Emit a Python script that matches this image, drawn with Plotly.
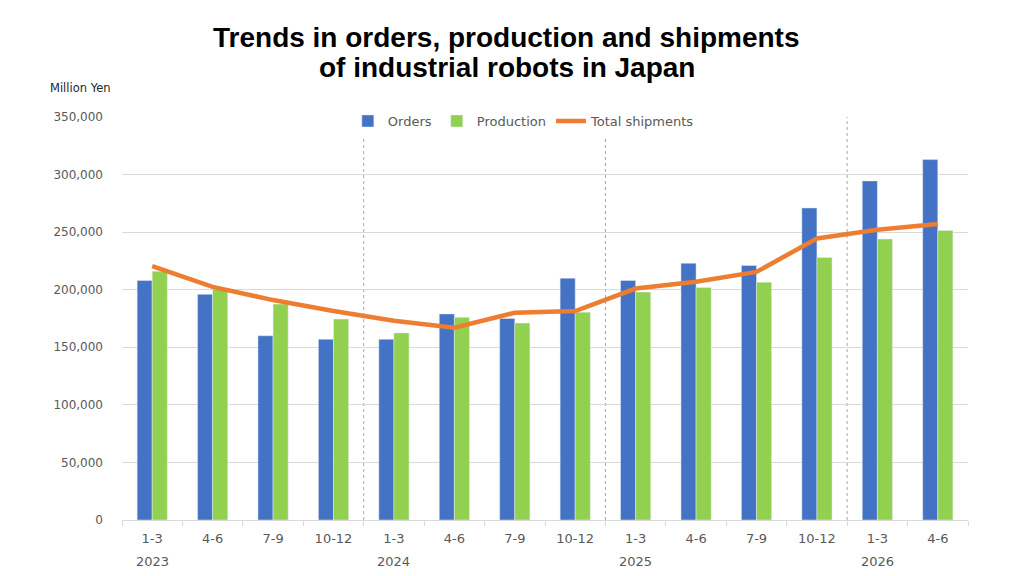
import plotly.graph_objects as go

quarters = ["1-3", "4-6", "7-9", "10-12", "1-3", "4-6", "7-9", "10-12",
            "1-3", "4-6", "7-9", "10-12", "1-3", "4-6"]
years = ["2023", "", "", "", "2024", "", "", "", "2025", "", "", "", "2026", ""]
orders = [208000, 196000, 160000, 157000, 157000, 179000, 175000, 210000,
          208000, 223000, 221000, 271000, 294500, 313000]
production = [216000, 200500, 187500, 174500, 162500, 176000, 171000, 180500,
              198000, 202000, 206500, 228000, 244000, 251500]
shipments = [220500, 202500, 191000, 181500, 173000, 167000, 180000, 181500,
             201000, 207000, 215500, 244500, 252000, 257000]

pos = list(range(len(quarters)))
gray = "#595959"

fig = go.Figure()
fig.add_trace(go.Bar(x=pos, y=orders, name="Orders", marker_color="#4472C4"))
fig.add_trace(go.Bar(x=pos, y=production, name="Production", marker_color="#92D050"))
fig.add_trace(go.Scatter(x=pos, y=shipments, name="Total shipments", mode="lines",
                         line=dict(color="#ED7D31", width=4.5)))

# dashed separators between years + year labels under first quarter
for i, yr in enumerate(years):
    if yr and i > 0:
        fig.add_shape(type="line", x0=i - 0.5, x1=i - 0.5, y0=0, y1=350000,
                      xref="x", yref="y", layer="below",
                      line=dict(color="#a6a6a6", width=1, dash="dot"))
    if yr:
        fig.add_annotation(x=i, y=-0.104, xref="x", yref="paper", text=yr,
                           yanchor="middle", showarrow=False,
                           font=dict(size=13, color=gray))

fig.add_annotation(x=-0.0496, y=1.072, xref="paper", yref="paper",
                   xanchor="center", yanchor="middle", text="Million Yen",
                   showarrow=False, font=dict(size=11.5, color="#262626"))

# title as two lines with tight spacing
title_lines = ["Trends in orders, production and shipments",
               "of industrial robots in Japan"]
for line, ty in zip(title_lines, [1.1985, 1.124]):
    fig.add_annotation(x=0.455, y=ty, xref="paper", yref="paper",
                       xanchor="center", yanchor="middle", text="<b>" + line + "</b>",
                       showarrow=False,
                       font=dict(family="Liberation Sans", size=28, color="black"))

fig.update_layout(
    width=1024, height=576,
    margin=dict(l=114, r=64, t=109, b=64),
    plot_bgcolor="white", paper_bgcolor="white",
    font=dict(family="DejaVu Sans", color=gray),
    barmode="group", bargap=0.5, bargroupgap=0,
    legend=dict(orientation="h", x=0.475, xanchor="center", y=0.99, yanchor="middle",
                bgcolor="white", font=dict(size=13, color=gray),
                itemwidth=30, traceorder="normal"),
    xaxis=dict(range=[-0.5, len(quarters) - 0.5], tickmode="array",
               tickvals=pos, ticktext=quarters, ticks="",
               showline=True, linecolor="#d9d9d9", showgrid=False,
               tickfont=dict(size=13, color=gray), ticklabelstandoff=6,
               minor=dict(tick0=-0.5, dtick=1, ticks="outside", ticklen=5,
                          tickcolor="#d9d9d9", showgrid=False)),
    yaxis=dict(range=[0, 350000], dtick=50000, tickformat=",",
               gridcolor="#d9d9d9", zeroline=False, ticks="",
               tickfont=dict(size=12, color=gray), ticklabelstandoff=18),
)

fig.write_html("out.html")
